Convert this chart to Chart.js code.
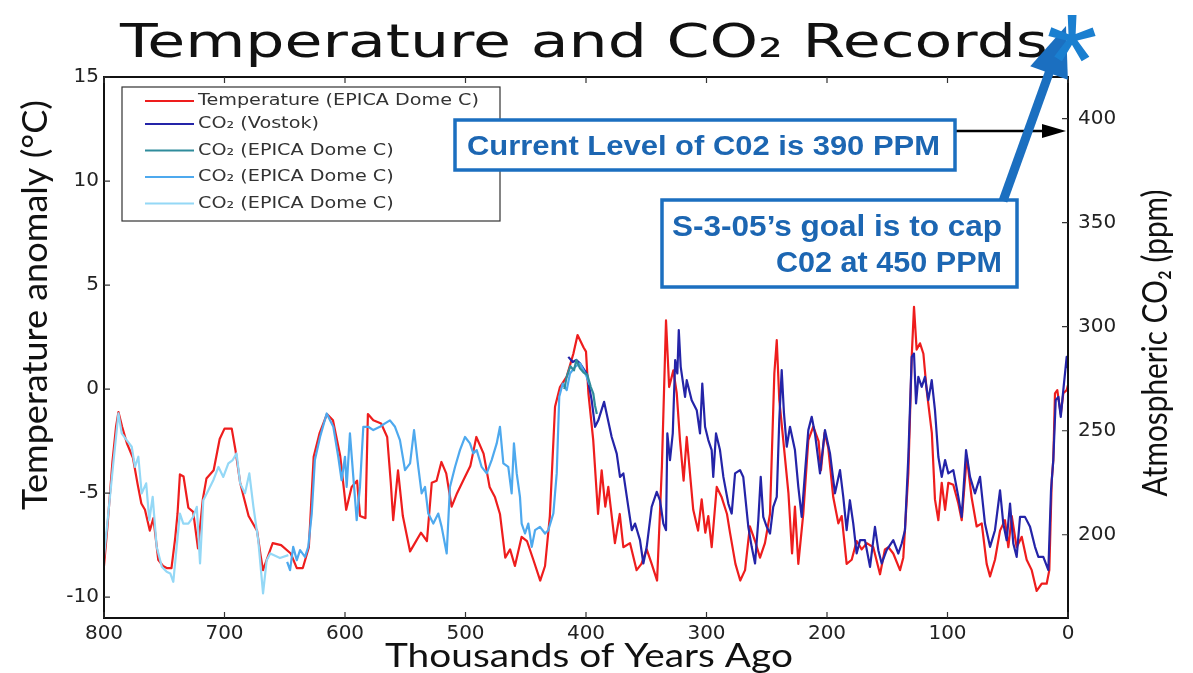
<!DOCTYPE html>
<html>
<head>
<meta charset="utf-8">
<script src="https://cdn.jsdelivr.net/npm/chart.js@4.4.1/dist/chart.umd.min.js"></script>
<style>
html,body{margin:0;padding:0;background:#fff;}
#wrap{width:1193px;height:673px;}
</style>
</head>
<body>
<div id="wrap"><canvas id="c" width="1193" height="673"></canvas></div>
<script>
// ---------- DATA ----------
const ageTicks = [800, 700, 600, 500, 400, 300, 200, 100, 0];
const tempTicks = [-10, -5, 0, 5, 10, 15];
const co2Ticks = [200, 250, 300, 350, 400];

// Temperature anomaly (EPICA Dome C), kyr ago / degC
const tempAge = [800,797,793,790,788,785,781,776,772,769,766,762,759,755,751,748,744,741,739,737,734,730,726,722,718,715,709,706,704,700,694,691,687,684,680,673,670,668,665,660,653,645,640,635,630,626,621,615,610,604,599,594.5,590,587.5,583,581,576.5,570,565,562,560,556,552,546,542,537,532,528,524,520,516,511.5,507,502,496,491,485,480,475.5,471.4,467,463,459,453.4,449,443.7,438,434,430,425.7,421.6,416,410.5,407,402,400,398,394,390,387,384,381.5,376,372,369,363.5,358,354,349.6,345.5,341,337,333.6,331,327.5,324.7,322,319,316.4,311,307,304,301,298.5,295.7,291.5,287.4,283,280.5,276,272,268,264,259.7,255.6,251.5,247.3,243.7,241.7,239.6,236.3,232,229,226.6,223.8,219.7,215.5,211.4,207,205,202,199,194.8,190.6,187.8,183.7,179.5,175.4,171.2,167,161.6,156,151.9,149,145,139.4,136.7,132.5,129.7,127.8,125.6,122.8,120,117.3,113,110.4,107.6,104.8,102,99.3,95.2,91,88.2,84,80,75.8,71.6,67.5,64.7,60.6,56.4,52.3,49.5,46.7,42.6,38.4,34.3,30.1,26,21.8,17.7,15.5,13.5,12.2,10.8,8.9,6,3.9,1.1,0];
const tempVal = [-8.5,-6.5,-3.5,-1.8,-1.1,-1.8,-2.6,-3.3,-4.6,-5.5,-5.8,-6.8,-6.2,-8.2,-8.5,-8.6,-8.6,-7.2,-6.0,-4.1,-4.2,-5.7,-5.9,-7.65,-5.3,-4.3,-3.9,-3.0,-2.4,-1.9,-1.9,-2.9,-4.5,-5.2,-6.1,-6.8,-8.0,-8.7,-8.2,-7.4,-7.5,-7.9,-8.6,-8.6,-7.6,-3.25,-2.1,-1.2,-1.5,-3.2,-5.8,-4.7,-4.4,-6.1,-6.2,-1.2,-1.5,-1.65,-2.3,-4.5,-6.3,-3.9,-6.1,-7.8,-7.4,-6.9,-7.3,-4.5,-4.4,-3.5,-4.05,-5.65,-5.0,-4.4,-3.7,-2.3,-3.1,-4.7,-5.2,-6.0,-8.1,-7.7,-8.5,-7.1,-7.3,-8.2,-9.2,-8.5,-6.1,-0.85,0.1,0.6,1.7,2.6,2.0,1.8,-0.2,-2.45,-6.0,-3.9,-5.65,-4.7,-7.4,-6.0,-7.6,-7.4,-8.7,-8.4,-7.7,-8.4,-9.2,-3.7,3.3,0.1,0.9,-0.2,-2.45,-4.4,-2.3,-5.8,-6.8,-5.3,-6.9,-6.1,-7.6,-4.7,-5.2,-6.0,-6.9,-8.4,-9.2,-8.7,-6.6,-7.3,-8.1,-7.4,-6.0,0.75,2.35,-0.5,-2.45,-5.0,-7.9,-5.65,-8.4,-6.0,-2.45,-1.8,-2.5,-3.9,-2.1,-2.8,-5.2,-6.45,-6.1,-8.4,-8.2,-7.3,-7.7,-7.4,-7.6,-8.9,-7.7,-7.6,-7.9,-8.7,-8.1,-4.05,1.55,3.95,1.9,2.2,1.7,-0.05,-2.1,-5.3,-6.3,-4.5,-5.8,-4.5,-4.6,-5.5,-6.3,-3.25,-5.2,-6.6,-6.45,-8.4,-9.0,-8.2,-6.8,-6.3,-7.6,-6.1,-7.6,-7.1,-8.2,-8.7,-9.7,-9.35,-9.35,-8.7,-4.4,-3.4,-0.2,-0.05,-1.2,-0.2,-0.05,0.2];

// CO2 Vostok, kyr ago / ppm
const vostokAge = [414.7,411,408,405,399.4,395.3,392.5,389.8,385,378.7,374.5,371.8,369,364.9,362,359.3,355.2,352.4,349.6,345.5,341.3,338.6,335.8,333.6,332.5,330.3,328,326,324.2,323,321.4,317.8,316.4,312.3,308.1,305.4,303.5,301.2,298.5,295.7,294.4,292.1,288.8,286,281.9,279.1,276.3,272.2,269.5,265.3,262.5,259.7,257,255,252.9,250,247.3,244.6,241.7,239.6,237.6,235.7,233.4,230.7,226.6,223.8,221,218.3,215.5,212.7,210,205.8,201.7,197.5,193.4,189.2,186.5,183.7,181,178.2,175.4,172.6,168.5,164.3,160.2,157.4,154.6,150.5,145,140.8,138,135.3,132.5,129.7,127.8,126.1,124.2,121.4,118.7,115.9,113.1,110.4,107.6,104.8,102,99.3,95.2,91,88.2,84.6,81.3,77.2,73,68.9,64.7,60.6,56.4,53.7,50.9,48.1,45.4,42.6,39.8,35.7,31.5,27.4,24.6,20.5,16.3,14.1,12.2,10.2,8,6,3.9,1.1,0];
const vostokVal = [285.5,283,284,282.4,277.5,264.7,251.9,255,263.9,247,239,227.8,229.5,213.4,202.2,205.4,197.4,186.2,194.2,213.4,220.6,216.6,205.4,202.2,248.7,235.9,248.7,283.9,277.5,298.4,280.7,266.3,274.3,264.7,259.9,248.7,272.7,251.9,245.5,240.7,227.8,248.7,240.7,227.8,215,210.2,229.5,231.1,227.8,203.8,194.2,186.2,207,227.8,208.6,203.8,200.6,213.4,218.2,255,279.1,258.3,242.3,251.9,240.7,223,208.6,229.5,250.3,256.7,248.7,229.5,250.3,239.1,219.9,231.1,218.2,202.2,216.6,205.4,191,197.4,197.4,184.6,203.8,192.6,186.2,192.6,197.4,191,195.8,202.2,237.5,285.5,287.1,263.1,275.9,271.1,275.9,264.7,274.3,259.9,237.5,227.8,235.9,229.5,231.1,218.2,208.6,240.7,227.8,219.9,227.8,205.4,194.2,202.2,221.4,205.4,197.4,215,195.8,189.4,208.6,208.6,203.8,194.2,189.4,189.4,183,221.4,235.9,264.7,266.3,256.7,269.5,285.5,280];

// CO2 EPICA Dome C (three segments)
const edcTealAge = [418,416,413,410,408,405,402,399,396,394,392.5,391];
const edcTealVal = [270,276,281,279,284,280,278,277,271,268,262,258];

const edcBlueAge = [648,645.6,643,640,637.3,633.2,630.5,627.6,625,620.7,615.2,609.7,605.6,602.8,600,598.6,595.9,593.1,590.3,587.6,584.8,580.7,576.5,571,566.8,562.7,558.5,554.4,550.2,546,542.7,539.2,536.4,533.6,530.9,526.7,522.6,519.8,515.6,512.9,508.7,504.6,500.4,496.3,493.5,490.7,486.6,482.4,478.3,474.1,471.4,468.6,464.5,461.7,459.8,457.5,454.8,453.4,450.6,447.9,445,442.3,438.2,434,431.3,427.1,424.3,422.2,419.3,416,413.3,409.1,405,399.4,397];
const edcBlueVal = [187,183,194.2,187.8,192.6,189.4,194.2,210.2,235.9,247,258.3,251.9,237.5,226.2,237.5,223,248.7,227.8,207,223,251.9,251.9,250.3,251.9,253.5,255,251.9,245.5,231.1,234.3,250.3,232.6,219.9,223,210.2,205.4,210.2,203.8,191,223,232.6,240.7,247,243.9,239.1,240.7,232.6,229.5,235.9,243.9,251.9,234.3,232.6,219.9,243.9,229.5,218.2,205.4,200.6,205.4,194.2,202.2,203.8,200.6,202.2,210.2,229.5,266.3,272.7,269.5,277.5,280.7,282.4,275.9,272];

const edcCyanAge = [800,797.8,792.3,788,785.3,781.2,777,774.3,771.5,768.7,765,762.4,759.6,756.3,752,748,745,742.5,739.7,737,734.2,730,726,723,720.3,717.6,713.4,709.3,705,701,696.8,693.2,690,687,683,679.4,676,672,668,665,662,654,647];
const edcCyanVal = [189.4,202.2,234.3,258.3,248.7,245.5,242.3,232.6,237.5,219.9,224.7,207,218.2,194.2,184.6,182.2,181.4,177.4,194.2,210.2,205.4,205.4,208.6,213.4,186.2,216.6,221.4,226.2,232.6,227.8,234.3,235.9,239.1,224.7,219.9,229.5,213.4,197.4,171.8,187.8,191,188.8,190.2];

const seriesLabels = ['Temperature (EPICA Dome C)', 'CO\u2082 (Vostok)', 'CO\u2082 (EPICA Dome C)', 'CO\u2082 (EPICA Dome C)', 'CO\u2082 (EPICA Dome C)'];

// ---------- helpers ----------
const pts = (a, v) => a.map((x, i) => ({x: x, y: v[i]}));
const COLORS = ['#ee1d1d', '#2424a8', '#2f8c9c', '#4ea9ee', '#94d8f6'];
const BLUE_ANN = '#1b6fc0';
const BLUE_TXT = '#1c66b2';

function fitText(ctx, text, cx, cy, targetW, font, color, rot, align, baseline) {
  ctx.save();
  ctx.font = font;
  ctx.fillStyle = color;
  const w = ctx.measureText(text).width;
  const s = targetW / w;
  ctx.translate(cx, cy);
  if (rot) ctx.rotate(rot);
  ctx.scale(s, 1);
  ctx.textAlign = align || 'center';
  ctx.textBaseline = baseline || 'alphabetic';
  ctx.fillText(text, 0, 0);
  ctx.restore();
}

const decor = {
  id: 'decor',
  afterDatasetsDraw(chart) {
    const ctx = chart.ctx;
    const a = chart.chartArea;
    const sx = chart.scales.x, sy = chart.scales.y, sy2 = chart.scales.y2;
    ctx.save();
    // frame
    ctx.strokeStyle = '#111';
    ctx.lineWidth = 2;
    ctx.strokeRect(a.left, a.top, a.right - a.left, a.bottom - a.top);
    // inward ticks
    ctx.lineWidth = 1.2;
    ctx.strokeStyle = '#333';
    ctx.beginPath();
    ageTicks.forEach(v => {
      const px = sx.getPixelForValue(v);
      ctx.moveTo(px, a.bottom); ctx.lineTo(px, a.bottom - 6);
      ctx.moveTo(px, a.top); ctx.lineTo(px, a.top + 6);
    });
    tempTicks.forEach(v => {
      const py = sy.getPixelForValue(v);
      ctx.moveTo(a.left, py); ctx.lineTo(a.left + 6, py);
    });
    co2Ticks.forEach(v => {
      const py = sy2.getPixelForValue(v);
      ctx.moveTo(a.right, py); ctx.lineTo(a.right - 6, py);
    });
    ctx.stroke();

    // legend
    ctx.fillStyle = '#fff';
    ctx.fillRect(122, 87, 378, 134);
    ctx.strokeStyle = '#333';
    ctx.lineWidth = 1.2;
    ctx.strokeRect(122, 87, 378, 134);
    ctx.font = '16px "DejaVu Sans"';
    const legScale = 281 / ctx.measureText(chart.data.datasets[0].label).width;
    chart.data.datasets.forEach((ds, i) => {
      const y = i === 0 ? 101 : 124 + (i - 1) * 26.5;
      ctx.strokeStyle = ds.borderColor;
      ctx.lineWidth = 2;
      ctx.beginPath(); ctx.moveTo(145, y); ctx.lineTo(194, y); ctx.stroke();
      ctx.save();
      ctx.translate(198, y);
      ctx.scale(legScale, 1);
      ctx.fillStyle = '#333';
      ctx.font = '16px "DejaVu Sans"';
      ctx.textBaseline = 'middle';
      ctx.textAlign = 'left';
      ctx.fillText(ds.label, 0, 0);
      ctx.restore();
    });
    ctx.restore();
  },
  afterDraw(chart) {
    const ctx = chart.ctx;
    ctx.save();
    // title
    fitText(ctx, 'Temperature and CO\u2082 Records', 584, 57, 928, '47px "DejaVu Sans"', '#111');
    // axis titles
    fitText(ctx, 'Temperature anomaly (\u00B0C)', 47, 305, 410, '35px Lato', '#111', -Math.PI / 2, 'center', 'alphabetic');
    fitText(ctx, 'Atmospheric CO\u2082 (ppm)', 1167, 343, 307, '34px Lato', '#111', -Math.PI / 2, 'center', 'alphabetic');
    fitText(ctx, 'Thousands of Years Ago', 589, 667, 408, '32px Lato', '#111');

    // black arrow: current level
    ctx.strokeStyle = '#000';
    ctx.fillStyle = '#000';
    ctx.lineWidth = 2.5;
    ctx.beginPath(); ctx.moveTo(955, 131); ctx.lineTo(1046, 131); ctx.stroke();
    ctx.beginPath(); ctx.moveTo(1066, 131); ctx.lineTo(1042, 124); ctx.lineTo(1042, 138); ctx.closePath(); ctx.fill();

    // box 1
    ctx.fillStyle = '#fff';
    ctx.fillRect(455, 120, 500, 50);
    ctx.strokeStyle = BLUE_ANN;
    ctx.lineWidth = 3.5;
    ctx.strokeRect(455, 120, 500, 50);
    fitText(ctx, 'Current Level of C02 is 390 PPM', 467, 155, 473, 'bold 28px "Liberation Sans"', BLUE_TXT, 0, 'left');

    // box 2
    ctx.fillStyle = '#fff';
    ctx.fillRect(662, 200, 355, 87);
    ctx.strokeRect(662, 200, 355, 87);
    fitText(ctx, 'S-3-05\u2019s goal is to cap', 1002, 236, 330, 'bold 29px "Liberation Sans"', BLUE_TXT, 0, 'right');
    fitText(ctx, 'C02 at 450 PPM', 1002, 272, 226, 'bold 29px "Liberation Sans"', BLUE_TXT, 0, 'right');

    // big blue arrow
    const tail = [1003, 201], tip = [1066, 26];
    const dx = tip[0] - tail[0], dy = tip[1] - tail[1];
    const len = Math.hypot(dx, dy), ux = dx / len, uy = dy / len;
    const bx = tip[0] - 50 * ux, by = tip[1] - 50 * uy;
    ctx.strokeStyle = BLUE_ANN;
    ctx.fillStyle = BLUE_ANN;
    ctx.lineWidth = 9;
    ctx.beginPath(); ctx.moveTo(tail[0], tail[1]); ctx.lineTo(bx + 4 * ux, by + 4 * uy); ctx.stroke();
    ctx.beginPath();
    ctx.moveTo(tip[0], tip[1]);
    ctx.lineTo(bx - uy * 20, by + ux * 20);
    ctx.lineTo(bx + uy * 20, by - ux * 20);
    ctx.closePath(); ctx.fill();

    // asterisk
    ctx.fillStyle = '#1a7fd0';
    ctx.font = '132px "Liberation Sans"';
    ctx.textAlign = 'center';
    ctx.textBaseline = 'top';
    ctx.fillText('*', 1072, 4);
    ctx.restore();
  }
};

const datasets = [
  {label: seriesLabels[0], data: pts(tempAge, tempVal), yAxisID: 'y', borderColor: COLORS[0], order: 5},
  {label: seriesLabels[1], data: pts(vostokAge, vostokVal), yAxisID: 'y2', borderColor: COLORS[1], order: 4},
  {label: seriesLabels[2], data: pts(edcTealAge, edcTealVal), yAxisID: 'y2', borderColor: COLORS[2], order: 1},
  {label: seriesLabels[3], data: pts(edcBlueAge, edcBlueVal), yAxisID: 'y2', borderColor: COLORS[3], order: 2},
  {label: seriesLabels[4], data: pts(edcCyanAge, edcCyanVal), yAxisID: 'y2', borderColor: COLORS[4], order: 3}
].map(d => Object.assign(d, {borderWidth: 2.2, pointRadius: 0, tension: 0, fill: false, borderJoinStyle: 'round'}));

const tickFont = {family: 'DejaVu Sans', size: 20};

new Chart(document.getElementById('c'), {
  type: 'line',
  data: {datasets: datasets},
  options: {
    responsive: false,
    animation: false,
    events: [],
    layout: {padding: {top: 77, left: 0, right: 0, bottom: 0}},
    plugins: {legend: {display: false}, tooltip: {enabled: false}, title: {display: false}},
    scales: {
      x: {
        type: 'linear', min: 0, max: 800, reverse: true,
        afterBuildTicks: s => { s.ticks = ageTicks.map(v => ({value: v})); },
        afterFit: s => { s.height = 55; },
        grid: {display: false, drawTicks: false},
        border: {display: false},
        ticks: {font: tickFont, color: '#222', padding: 4, maxRotation: 0}
      },
      y: {
        type: 'linear', position: 'left', min: -11, max: 15,
        afterBuildTicks: s => { s.ticks = tempTicks.map(v => ({value: v})); },
        afterFit: s => { s.width = 104; },
        grid: {display: false, drawTicks: false},
        border: {display: false},
        ticks: {font: tickFont, color: '#222', padding: 5}
      },
      y2: {
        type: 'linear', position: 'right', min: 160, max: 420,
        afterBuildTicks: s => { s.ticks = co2Ticks.map(v => ({value: v})); },
        afterFit: s => { s.width = 125; },
        grid: {display: false, drawTicks: false},
        border: {display: false},
        ticks: {font: tickFont, color: '#222', padding: 10}
      }
    }
  },
  plugins: [decor]
});
</script>
</body>
</html>
